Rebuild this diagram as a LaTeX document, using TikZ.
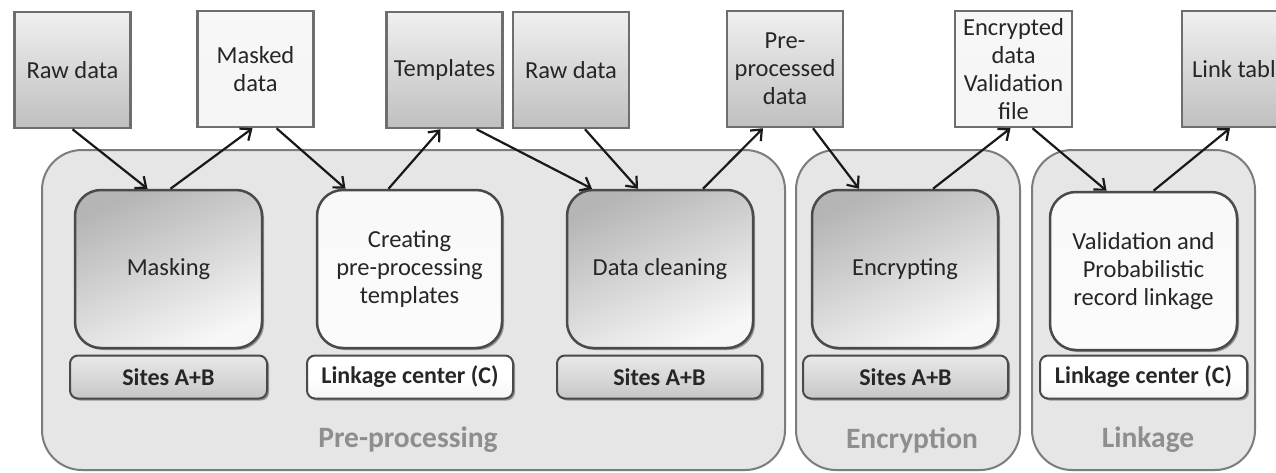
\documentclass[tikz,border=0pt]{standalone}
\usepackage{fontspec}
\setmainfont{Carlito}
\usetikzlibrary{arrows.meta,shadows}
\definecolor{boxedge}{HTML}{6E6E6E}
\definecolor{procedge}{HTML}{4A4A4A}
\definecolor{groupfill}{HTML}{E6E6E6}
\definecolor{groupedge}{HTML}{7C7C7C}
\definecolor{grouptext}{HTML}{8E8E8E}
\definecolor{ink}{HTML}{262626}
\begin{document}
\begin{tikzpicture}[x=1pt,y=-1pt,
  every node/.style={text=ink, align=center, inner sep=2pt},
  databox/.style={draw=boxedge, line width=2.5pt, minimum width=116pt, minimum height=116pt,
    top color=gray!12, bottom color=gray!50, font=\fontsize{24.5}{28}\selectfont},
  plainbox/.style={databox, fill=gray!6, top color=gray!6, bottom color=gray!8},
  group/.style={draw=groupedge, line width=2pt, fill=groupfill, rounded corners=40pt,
    minimum height=320pt},
  grouplabel/.style={text=grouptext, font=\fontsize{29.5}{32}\selectfont\bfseries},
  proc/.style={draw=procedge, line width=2.5pt, rounded corners=26pt, minimum height=158pt,
    top color=gray!58, bottom color=gray!6, shading angle=25,
    drop shadow={shadow xshift=2pt, shadow yshift=-2pt, opacity=.35, fill=black},
    font=\fontsize{24.5}{28}\selectfont},
  proclight/.style={proc, top color=gray!5, bottom color=gray!3},
  site/.style={draw=procedge, line width=2pt, rounded corners=8pt, minimum height=43pt,
    top color=gray!18, bottom color=gray!45, middle color=gray!30,
    drop shadow={shadow xshift=2pt, shadow yshift=-2pt, opacity=.35, fill=black},
    font=\fontsize{24}{27}\selectfont\bfseries},
  sitelight/.style={site, top color=white, bottom color=gray!8, middle color=white},
  arr/.style={draw=black!90, line width=2.2pt, -{Straight Barb[length=9pt,width=15pt]}}]

\path[use as bounding box, clip] (0,0) rectangle (1276,472);
\fill[white] (0,0) rectangle (1276,472);

% stage groups
\node[group, minimum width=743pt] (gpre) at (413.5,310) {};
\node[group, minimum width=224pt] (genc) at (908,310) {};
\node[group, minimum width=223pt] (glink) at (1143.5,310) {};
\node[grouplabel] (lpre) at (408,440) {Pre-processing};
\node[grouplabel] (lenc) at (912,440) {Encryption};
\node[grouplabel] (llink) at (1148,440) {Linkage};

% processing steps
\node[proc, minimum width=187pt] (mask) at (168.5,269) {Masking};
\node[proclight, minimum width=185pt] (create) at (409.5,269) {Creating\\pre-processing\\templates};
\node[proc, minimum width=186pt] (clean) at (660,269) {Data cleaning};
\node[proc, minimum width=186pt] (encr) at (905,269) {Encrypting};
\node[proclight, minimum width=187pt] (valid) at (1143.5,271) {Validation and\\Probabilistic\\record linkage};

% where each step runs
\node[site, minimum width=197pt] (s1) at (168.5,377) {Sites A+B};
\node[sitelight, minimum width=206pt] (c1) at (410,377) {Linkage center (C)};
\node[site, minimum width=205pt] (s2) at (659.5,377) {Sites A+B};
\node[site, minimum width=205pt] (s3) at (905.5,377) {Sites A+B};
\node[sitelight, minimum width=207pt] (c2) at (1143.5,377) {Linkage center (C)};

% data products
\node[databox] (raw1) at (72.5,70) {Raw data};
\node[plainbox] (masked) at (255.5,69) {Masked\\data};
\node[databox] (templ) at (444.5,70) {Templates};
\node[databox] (raw2) at (571,70) {Raw data};
\node[databox] (pre) at (785,69) {Pre-\\processed\\data};
\node[plainbox, minimum width=117pt] (encd) at (1013.5,69) {Encrypted\\data\\Validation\\file};
\node[databox] (link) at (1240,69) {Link table};

% data flow
\draw[arr] (raw1.south) -- ([xshift=-21pt]mask.north);
\draw[arr] ([xshift=2pt]mask.north) -- ([xshift=-3pt]masked.south);
\draw[arr] ([xshift=21pt]masked.south) -- ([xshift=-64pt]create.north);
\draw[arr] ([xshift=-21pt]create.north) -- ([xshift=-4pt]templ.south);
\draw[arr] ([xshift=32pt]templ.south) -- ([xshift=-68pt]clean.north);
\draw[arr] ([xshift=14pt]raw2.south) -- ([xshift=-22pt]clean.north);
\draw[arr] ([xshift=43pt]clean.north) -- ([xshift=-22pt]pre.south);
\draw[arr] ([xshift=28pt]pre.south) -- ([xshift=-46pt]encr.north);
\draw[arr] ([xshift=28pt]encr.north) -- ([xshift=-3pt]encd.south);
\draw[arr] ([xshift=19pt]encd.south) -- ([xshift=-37pt]valid.north);
\draw[arr] ([xshift=10pt]valid.north) -- ([xshift=-10pt]link.south);
\end{tikzpicture}
\end{document}
